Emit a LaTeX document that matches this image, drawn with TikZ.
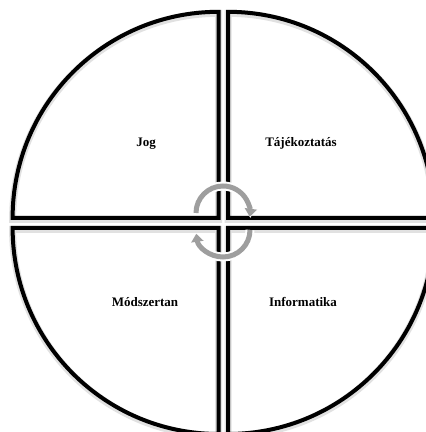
\documentclass[tikz,border=0pt]{standalone}
\usepackage{fontspec}
\setmainfont{Liberation Serif}
\usepackage{xcolor}
\usetikzlibrary{arrows.meta}
\definecolor{NyilSzurke}{RGB}{158,158,158}
\definecolor{ArnyekSzurke}{RGB}{225,225,225}

\begin{document}
\begin{tikzpicture}[x=1pt,y=1pt,>=Latex,
    cikk/.style={draw=black,line width=4pt,line join=miter,
      preaction={draw=ArnyekSzurke,line width=7pt,transform canvas={yshift=-1.5pt}}},
    felirat/.style={font=\fontsize{13}{15}\selectfont\bfseries},
    nyil/.style={NyilSzurke,line width=5pt,-{Triangle[width=12pt,length=8pt]},
      preaction={draw=white,line width=9pt,-{Triangle[width=15pt,length=10pt]}}}]
  \clip (0,0) rectangle (426,432);
  \fill[white] (0,0) rectangle (426,432);

  % negyed korcikkek
  \coordinate (TL) at (218.6,214.2);
  \coordinate (TR) at (228.0,214.2);
  \coordinate (BL) at (218.6,204.0);
  \coordinate (BR) at (228.0,204.0);
  \draw[cikk] (TL) -- ++(0,206) arc[start angle=90,end angle=180,radius=206] -- cycle;
  \draw[cikk] (TR) -- ++(0,206) arc[start angle=90,end angle=0,radius=206] -- cycle;
  \draw[cikk] (BL) -- ++(0,-206) arc[start angle=270,end angle=180,radius=206] -- cycle;
  \draw[cikk] (BR) -- ++(0,-206) arc[start angle=270,end angle=360,radius=206] -- cycle;

  % korforgo nyilak
  \coordinate (NyF) at (196,219);
  \coordinate (NyA) at (250,202);
  \draw[nyil] (NyF) arc[start angle=180,end angle=-8,radius=27];
  \draw[nyil] (NyA) arc[start angle=0,end angle=-172,radius=27];

  \node[felirat] (jog) at (146,288) {Jog};
  \node[felirat] (taj) at (301,289) {Tájékoztatás};
  \node[felirat] (mod) at (145,130) {Módszertan};
  \node[felirat] (inf) at (303,130) {Informatika};
\end{tikzpicture}
\end{document}
